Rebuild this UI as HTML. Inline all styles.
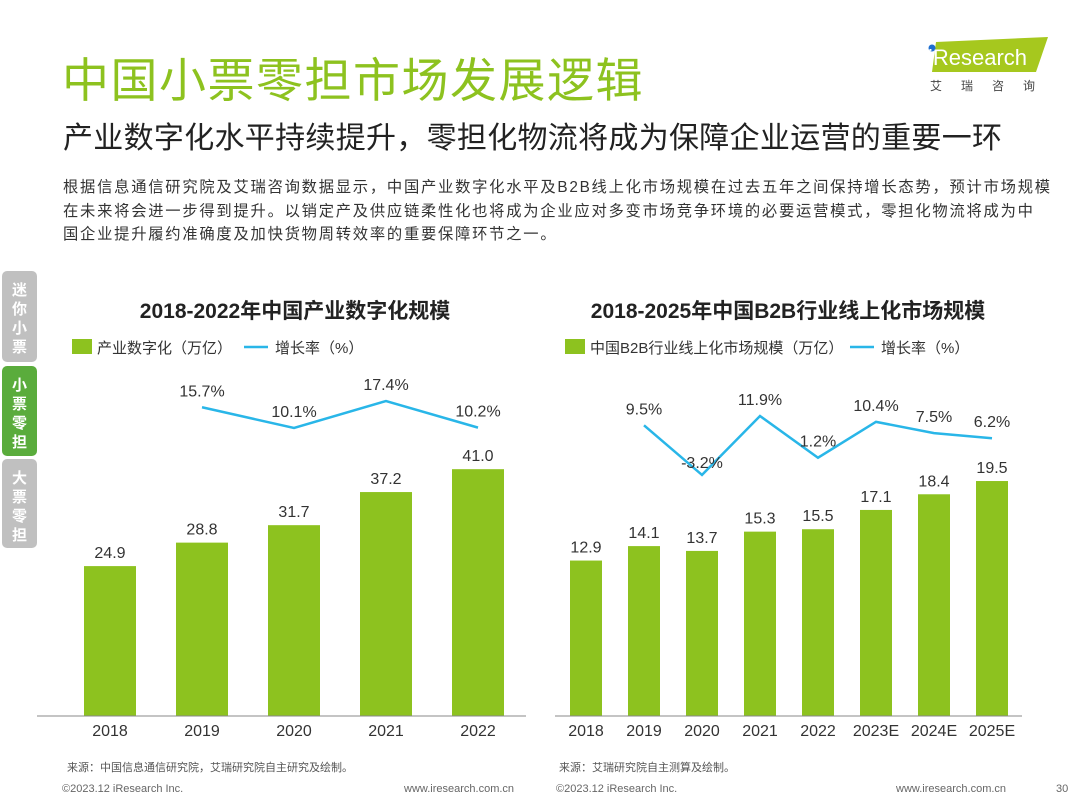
<!DOCTYPE html>
<html><head><meta charset="utf-8"><style>
body{margin:0;width:1080px;height:810px;background:#fff;position:relative;overflow:hidden;font-family:"Liberation Sans","Noto Sans CJK SC",sans-serif;color:#333}
.abs{position:absolute}
.tab{position:absolute;left:2px;width:35px;border-radius:5px;color:#fff;font-weight:bold;font-size:15px;text-align:center;line-height:19px;box-sizing:border-box;padding-top:10px}
</style></head><body>
<div class="abs" style="left:62px;top:42px;font-size:47px;color:#8dc21f;letter-spacing:1.5px">中国小票零担市场发展逻辑</div>
<div class="abs" style="left:63px;top:113px;font-size:30px;color:#222;letter-spacing:0.3px">产业数字化水平持续提升，零担化物流将成为保障企业运营的重要一环</div>
<div class="abs" style="left:922px;top:34px;width:130px;height:62px">
<svg width="130" height="62"><polygon points="14,8 126,3 114,38 10,38" fill="#a6c81e"/><circle cx="10" cy="14" r="3.5" fill="#1e6fd0"/><text x="6" y="31" font-size="22" fill="#fff" font-family="Liberation Sans">iResearch</text><text x="8" y="56" font-size="12" fill="#444" letter-spacing="19" font-family="Noto Sans CJK SC">艾瑞咨询</text></svg></div>
<div class="abs" style="left:63px;top:176px;width:1010px;font-size:15.3px;line-height:23.5px;color:#333;white-space:nowrap;letter-spacing:1.75px">根据信息通信研究院及艾瑞咨询数据显示，中国产业数字化水平及B2B线上化市场规模在过去五年之间保持增长态势，预计市场规模<br>在未来将会进一步得到提升。以销定产及供应链柔性化也将成为企业应对多变市场竞争环境的必要运营模式，零担化物流将成为中<br>国企业提升履约准确度及加快货物周转效率的重要保障环节之一。</div>
<div class="tab" style="top:271px;height:91px;background:#c0c0c0">迷<br>你<br>小<br>票</div>
<div class="tab" style="top:366px;height:90px;background:#5aac3c">小<br>票<br>零<br>担</div>
<div class="tab" style="top:459px;height:89px;background:#c0c0c0">大<br>票<br>零<br>担</div>
<svg class="abs" style="left:0;top:0" width="1080" height="810" id="chart"></svg>
<div class="abs" style="left:67px;top:759px;font-size:11px;color:#555">来源：中国信息通信研究院，艾瑞研究院自主研究及绘制。</div>
<div class="abs" style="left:559px;top:759px;font-size:11px;color:#555">来源：艾瑞研究院自主测算及绘制。</div>
<div class="abs" style="left:62px;top:783px;font-size:11px;color:#666">©2023.12 iResearch Inc.</div>
<div class="abs" style="left:404px;top:783px;font-size:11px;color:#666">www.iresearch.com.cn</div>
<div class="abs" style="left:556px;top:783px;font-size:11px;color:#666">©2023.12 iResearch Inc.</div>
<div class="abs" style="left:896px;top:783px;font-size:11px;color:#666">www.iresearch.com.cn</div>
<div class="abs" style="left:1056px;top:783px;font-size:11px;color:#666">30</div>
<script>
const leftCats=["2018","2019","2020","2021","2022"];
const leftBars=[24.9,28.8,31.7,37.2,41.0];
const leftRate=[null,15.7,10.1,17.4,10.2];
const rightCats=["2018","2019","2020","2021","2022","2023E","2024E","2025E"];
const rightBars=[12.9,14.1,13.7,15.3,15.5,17.1,18.4,19.5];
const rightRate=[null,9.5,-3.2,11.9,1.2,10.4,7.5,6.2];
const NS="http://www.w3.org/2000/svg",svg=document.getElementById('chart');
function el(t,a,txt){const e=document.createElementNS(NS,t);for(const k in a)e.setAttribute(k,a[k]);if(txt!=null)e.textContent=txt;svg.appendChild(e);return e;}
const G="#8dc21f",B="#29b6e8";
function chart(o){
 const x=i=>o.x0+i*o.step, yb=v=>o.base-v*o.bs, yl=v=>o.lref-(v-o.lrefv)*o.ls;
 let t=el('text',{x:o.tx,y:318,'font-size':21,'font-weight':'bold','text-anchor':'middle',fill:'#222'},o.title);
 
 
 let lb=el('rect',{x:o.lgx,y:339,width:20,height:15,fill:G});
 
 
 let lt=el('text',{x:o.lgx+25,y:353,'font-size':15,fill:'#333'},o.lg1);
 
 
 let ll=el('line',{x1:o.lgx2,y1:347,x2:o.lgx2+24,y2:347,stroke:B,'stroke-width':2.5});
 
 
 let lt2=el('text',{x:o.lgx2+31,y:353,'font-size':15,fill:'#333'},'增长率（%）');
 
 
 o.cats.forEach((c,i)=>{
  const v=o.bars[i];
  let r=el('rect',{x:x(i)-o.bw/2,y:yb(v),width:o.bw,height:o.base-yb(v),fill:G});
  
  
  let vl=el('text',{x:x(i),y:yb(v)-8,'font-size':16,'text-anchor':'middle',fill:'#333'},v.toFixed(1));
  
  
  let xl=el('text',{x:x(i),y:736,'font-size':16,'text-anchor':'middle',fill:'#333'},c);
  
  
 });
 let ax=el('line',{x1:o.ax1,y1:o.base,x2:o.ax2,y2:o.base,stroke:'#888','stroke-width':1});
 
 
 const pts=[];o.rate.forEach((v,i)=>{if(v!=null)pts.push([x(i),yl(v),v]);});
 let pl=el('polyline',{points:pts.map(p=>p[0]+','+p[1]).join(' '),fill:'none',stroke:B,'stroke-width':2.5});
 
 
 pts.forEach(p=>{
  const below=p[2]<0;
  let r=el('text',{x:p[0],y:below?p[1]-7:p[1]-11,'font-size':16,'text-anchor':'middle',fill:'#333'},p[2].toFixed(1)+'%');
  
  
 });
}
chart({id:'left',title:'2018-2022年中国产业数字化规模',tx:295,lgx:72,lgx2:244,lg1:'产业数字化（万亿）',cats:leftCats,bars:leftBars,rate:leftRate,x0:110,step:92,bw:52,base:716,bs:6.02,lref:428,lrefv:10.1,ls:3.7,ax1:37,ax2:526});
chart({id:'right',title:'2018-2025年中国B2B行业线上化市场规模',tx:788,lgx:565,lgx2:850,lg1:'中国B2B行业线上化市场规模（万亿）',cats:rightCats,bars:rightBars,rate:rightRate,x0:586,step:58,bw:32,base:716,bs:12.05,lref:416,lrefv:11.9,ls:3.9,ax1:555,ax2:1022});
</script>
</body></html>
